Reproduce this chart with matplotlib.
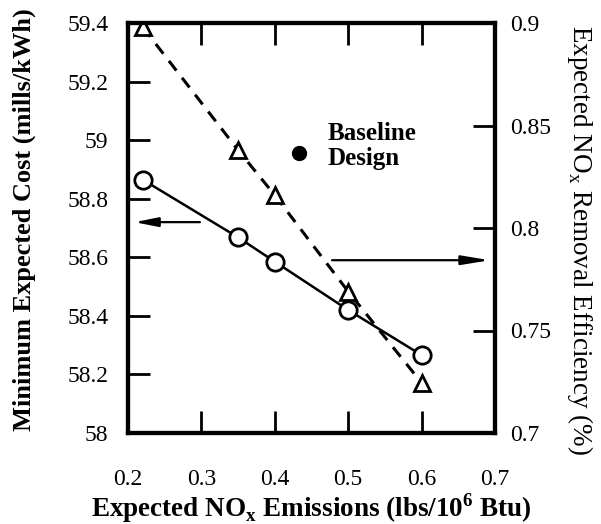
import numpy as np
import matplotlib
matplotlib.use("Agg")
import matplotlib.pyplot as plt
from matplotlib.ticker import FuncFormatter

# data
emissions = [0.22, 0.35, 0.40, 0.50, 0.60]
min_cost = [58.865, 58.668, 58.585, 58.42, 58.266]
removal_eff = [0.898, 0.838, 0.816, 0.769, 0.7245]
baseline_x = 0.433
baseline_cost = 58.955

x_ticks = [0.2, 0.3, 0.4, 0.5, 0.6, 0.7]
cost_ticks = [58, 58.2, 58.4, 58.6, 58.8, 59, 59.2, 59.4]
eff_ticks = [0.7, 0.75, 0.8, 0.85, 0.9]

plt.rcParams["font.family"] = ["Liberation Serif", "DejaVu Serif"]
plt.rcParams["mathtext.fontset"] = "custom"
plt.rcParams["mathtext.rm"] = "Liberation Serif"
plt.rcParams["mathtext.bf"] = "Liberation Serif:bold"

fig = plt.figure(figsize=(6.01, 5.24), dpi=100)
ax = fig.add_axes([128 / 601, 1 - 433 / 524, (495 - 128) / 601, (433 - 23) / 524])
ax2 = ax.twinx()

ax.plot(emissions, min_cost, "-", color="black", lw=1.8, marker="o", ms=12.5,
        mfc="white", mec="black", mew=2, zorder=3)
ax.plot([baseline_x], [baseline_cost], "o", color="black", ms=10)
ax2.plot(emissions, removal_eff, "--", color="black", lw=2.2, dashes=(4, 3),
         marker="^", ms=12, mfc="white", mec="black", mew=2, zorder=2)

ax.set_xlim(0.2, 0.7)
ax.set_ylim(58, 59.4)
ax2.set_ylim(0.7, 0.9)

fmt = FuncFormatter(lambda v, p: f"{v:g}")
ax.set_xticks(x_ticks)
ax.set_yticks(cost_ticks)
ax2.set_yticks(eff_ticks)
ax.xaxis.set_major_formatter(fmt)
ax.yaxis.set_major_formatter(fmt)
ax2.yaxis.set_major_formatter(fmt)

ax.tick_params(axis="x", direction="in", length=16, width=2, top=True,
               labelsize=17, pad=26)
ax.tick_params(axis="y", direction="in", length=16, width=2, labelsize=17, pad=14)
ax2.tick_params(axis="y", direction="in", length=16, width=2, labelsize=17, pad=11)

for a in (ax, ax2):
    for s in a.spines.values():
        s.set_linewidth(3)

# axis labels, anchored on their baselines
ax.set_xlabel("Expected NO$_\\mathbf{x}$ Emissions (lbs/10$^\\mathbf{6}$ Btu)",
              fontsize=19.5, fontweight="bold", va="baseline")
ax.xaxis.set_label_coords(0.5, -0.205)
ax.set_ylabel("Minimum Expected Cost (mills/kWh)", fontsize=19,
              fontweight="bold", va="baseline")
ax.yaxis.set_label_coords(-0.265, 0.52)
ax2.set_ylabel("Expected NO$_\\mathrm{x}$ Removal Efficiency (%)", fontsize=19.5,
               rotation=-90, va="baseline")
ax2.yaxis.set_label_coords(1.212, 0.47)

ax.text(0.472, 58.98, "Baseline\nDesign", fontsize=18, fontweight="bold",
        va="center", ha="left", linespacing=1.1)

ax.annotate("", xy=(0.209, 58.72), xytext=(0.298, 58.72),
            arrowprops=dict(arrowstyle="-|>,head_length=1.4,head_width=0.28",
                            color="black", lw=1.6, shrinkA=0, shrinkB=0))
ax.annotate("", xy=(0.693, 58.59), xytext=(0.478, 58.59),
            arrowprops=dict(arrowstyle="-|>,head_length=1.7,head_width=0.28",
                            color="black", lw=1.6, shrinkA=0, shrinkB=0))

fig.savefig("out.png", dpi=100)
